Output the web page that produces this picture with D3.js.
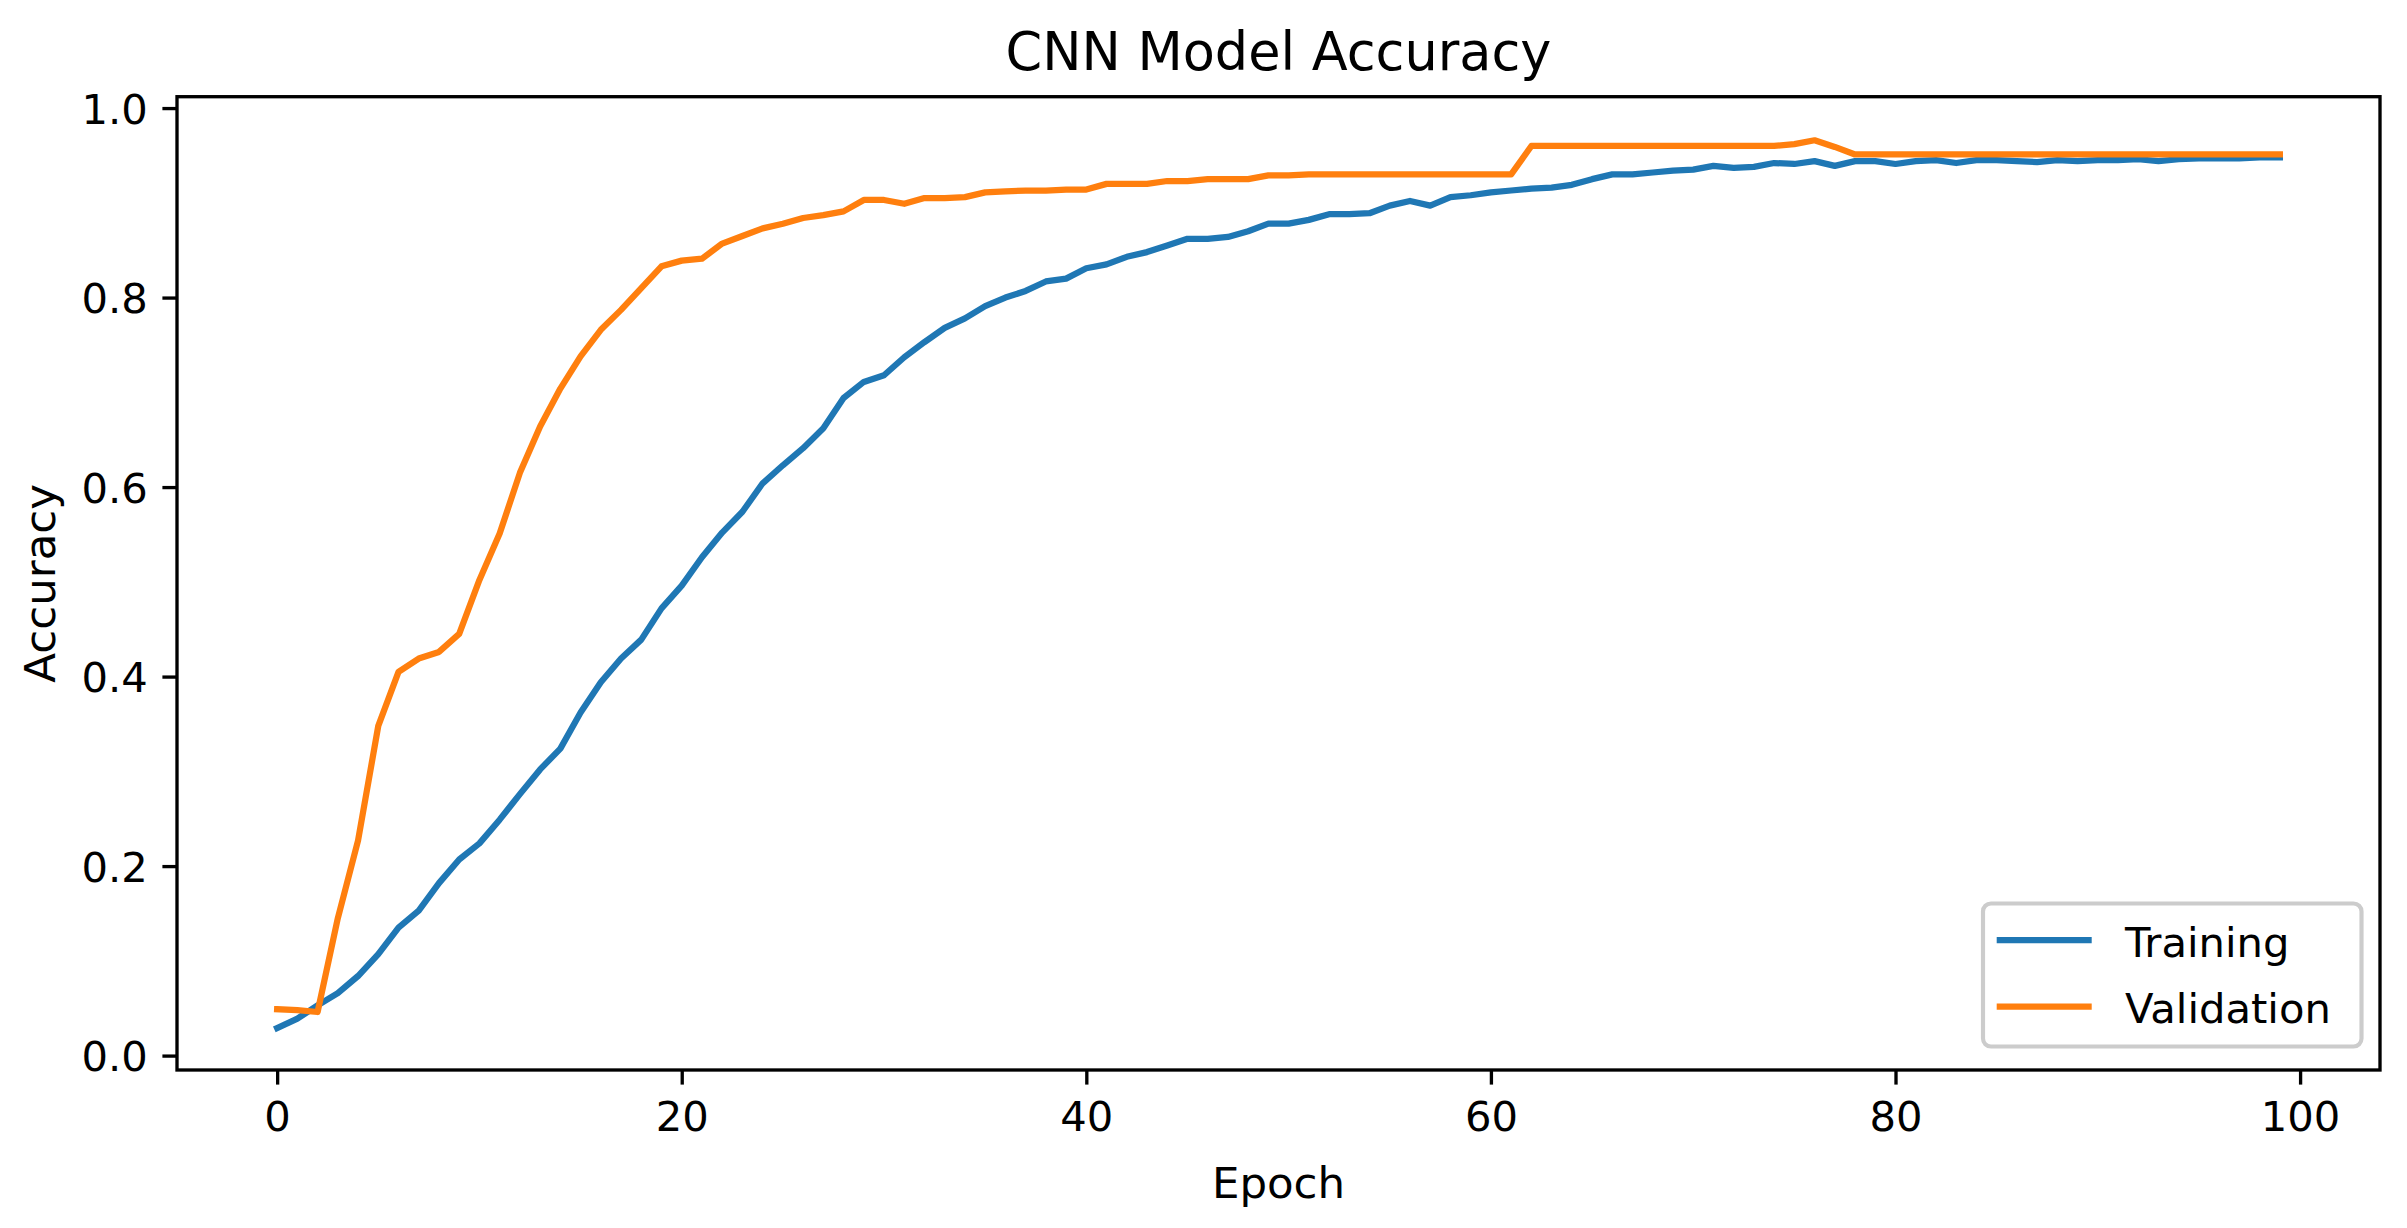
<!DOCTYPE html>
<html>
<head>
<meta charset="utf-8">
<script src="https://cdn.jsdelivr.net/npm/d3@7"></script>
<style>
  html, body { margin: 0; padding: 0; background: #fff; }
  svg { display: block; }
  text { font-family: "DejaVu Sans", sans-serif; fill: #000; }
</style>
</head>
<body>
<svg id="chart" width="2407" height="1228"></svg>
<script>
// ---- data ----
const epochs = d3.range(0, 100);
const training = [
  0.029, 0.039, 0.053, 0.066, 0.084, 0.107, 0.135, 0.153, 0.182, 0.207,
  0.224, 0.249, 0.276, 0.302, 0.324, 0.362, 0.394, 0.419, 0.439, 0.472,
  0.496, 0.526, 0.552, 0.574, 0.604, 0.623, 0.641, 0.662, 0.694, 0.711,
  0.718, 0.737, 0.753, 0.768, 0.778, 0.791, 0.800, 0.807, 0.817, 0.820,
  0.831, 0.835, 0.843, 0.848, 0.855, 0.862, 0.862, 0.864, 0.870, 0.878,
  0.878, 0.882, 0.888, 0.888, 0.889, 0.897, 0.902, 0.897, 0.906, 0.908,
  0.911, 0.913, 0.915, 0.916, 0.919, 0.925, 0.930, 0.930, 0.932, 0.934,
  0.935, 0.939, 0.937, 0.938, 0.942, 0.941, 0.944, 0.939, 0.944, 0.944,
  0.941, 0.944, 0.945, 0.942, 0.945, 0.945, 0.944, 0.943, 0.945, 0.944,
  0.945, 0.945, 0.946, 0.944, 0.946, 0.947, 0.947, 0.947, 0.948, 0.948
];
const validation = [
  0.049, 0.048, 0.046, 0.145, 0.227, 0.348, 0.405, 0.419, 0.426, 0.445,
  0.502, 0.551, 0.615, 0.664, 0.704, 0.738, 0.766, 0.787, 0.810, 0.833,
  0.839, 0.841, 0.857, 0.865, 0.873, 0.878, 0.884, 0.887, 0.891, 0.903,
  0.903, 0.899, 0.905, 0.905, 0.906, 0.911, 0.912, 0.913, 0.913, 0.914,
  0.914, 0.920, 0.920, 0.920, 0.923, 0.923, 0.925, 0.925, 0.925, 0.929,
  0.929, 0.930, 0.930, 0.930, 0.930, 0.930, 0.930, 0.930, 0.930, 0.930,
  0.930, 0.930, 0.960, 0.960, 0.960, 0.960, 0.960, 0.960, 0.960, 0.960,
  0.960, 0.960, 0.960, 0.960, 0.960, 0.962, 0.966, 0.959, 0.951, 0.951,
  0.951, 0.951, 0.951, 0.951, 0.951, 0.951, 0.951, 0.951, 0.951, 0.951,
  0.951, 0.951, 0.951, 0.951, 0.951, 0.951, 0.951, 0.951, 0.951, 0.951
];
const seriesNames = ["Training", "Validation"];
const xTicks = [0, 20, 40, 60, 80, 100];
const yTicks = [0.0, 0.2, 0.4, 0.6, 0.8, 1.0];
const titleText = "CNN Model Accuracy";
const xLabelText = "Epoch";
const yLabelText = "Accuracy";

// ---- layout ----
const W = 2407, H = 1228;
const plot = { left: 177, right: 2380, top: 96.7, bottom: 1070 };
const colors = ["#1f77b4", "#ff7f0e"];
const fontSize = 41.7;
const labelSize = 43.5;
const titleSize = 52.5;
const spineW = 3.33, tickLen = 14.6, tickPad = 14.6, lineW = 6.25;

const svg = d3.select("#chart");
svg.append("rect").attr("width", W).attr("height", H).attr("fill", "#fff");

const x = d3.scaleLinear().domain([-4.95, 103.95]).range([plot.left, plot.right]);
const y = d3.scaleLinear().domain([-0.0152, 1.012]).range([plot.bottom, plot.top]);

// clip
svg.append("clipPath").attr("id", "clip").append("rect")
  .attr("x", plot.left).attr("y", plot.top)
  .attr("width", plot.right - plot.left).attr("height", plot.bottom - plot.top);

// lines
const line = d3.line().x((d, i) => x(epochs[i])).y(d => y(d));
[training, validation].forEach((s, k) => {
  svg.append("path").datum(s)
    .attr("clip-path", "url(#clip)")
    .attr("fill", "none").attr("stroke", colors[k])
    .attr("stroke-width", lineW).attr("stroke-linejoin", "round")
    .attr("stroke-linecap", "square")
    .attr("d", line);
});

// axes
const xAxis = d3.axisBottom(x).tickValues(xTicks).tickFormat(d3.format("d"))
  .tickSizeInner(tickLen).tickSizeOuter(0).tickPadding(tickPad);
const gx = svg.append("g").attr("transform", `translate(0,${plot.bottom})`).call(xAxis);
const yAxis = d3.axisLeft(y).tickValues(yTicks).tickFormat(d3.format(".1f"))
  .tickSizeInner(tickLen).tickSizeOuter(0).tickPadding(tickPad);
const gy = svg.append("g").attr("transform", `translate(${plot.left},0)`).call(yAxis);
[gx, gy].forEach(g => {
  g.select(".domain").remove();
  g.selectAll(".tick line").attr("stroke", "#000").attr("stroke-width", spineW);
  g.selectAll(".tick text").attr("font-size", fontSize).attr("font-family", "DejaVu Sans").attr("fill", "#000");
});
gx.selectAll(".tick text").attr("dy", "0.76em");
gy.selectAll(".tick text").attr("dy", "0.36em");

// spines
svg.append("rect")
  .attr("x", plot.left).attr("y", plot.top)
  .attr("width", plot.right - plot.left).attr("height", plot.bottom - plot.top)
  .attr("fill", "none").attr("stroke", "#000").attr("stroke-width", spineW);

// title and labels
svg.append("text").attr("x", (plot.left + plot.right) / 2).attr("y", 70)
  .attr("text-anchor", "middle").attr("font-size", titleSize).text(titleText);
svg.append("text").attr("x", (plot.left + plot.right) / 2).attr("y", 1198)
  .attr("text-anchor", "middle").attr("font-size", labelSize).text(xLabelText);
svg.append("text")
  .attr("transform", `translate(55,${(plot.top + plot.bottom) / 2}) rotate(-90)`)
  .attr("text-anchor", "middle").attr("font-size", labelSize).text(yLabelText);

// legend
const leg = svg.append("g");
leg.append("rect")
  .attr("x", 1983).attr("y", 903.5).attr("width", 378.5).attr("height", 143)
  .attr("rx", 8).attr("ry", 8)
  .attr("fill", "#fff").attr("fill-opacity", 0.8)
  .attr("stroke", "#cccccc").attr("stroke-width", 4.17);
seriesNames.forEach((name, k) => {
  const cy = 940 + k * 66.7;
  leg.append("line").attr("x1", 1996.7).attr("x2", 2091.7)
    .attr("y1", cy).attr("y2", cy)
    .attr("stroke", colors[k]).attr("stroke-width", lineW);
  leg.append("text").attr("x", 2125).attr("y", cy + 16.5)
    .attr("font-size", fontSize).text(name);
});
</script>
</body>
</html>
